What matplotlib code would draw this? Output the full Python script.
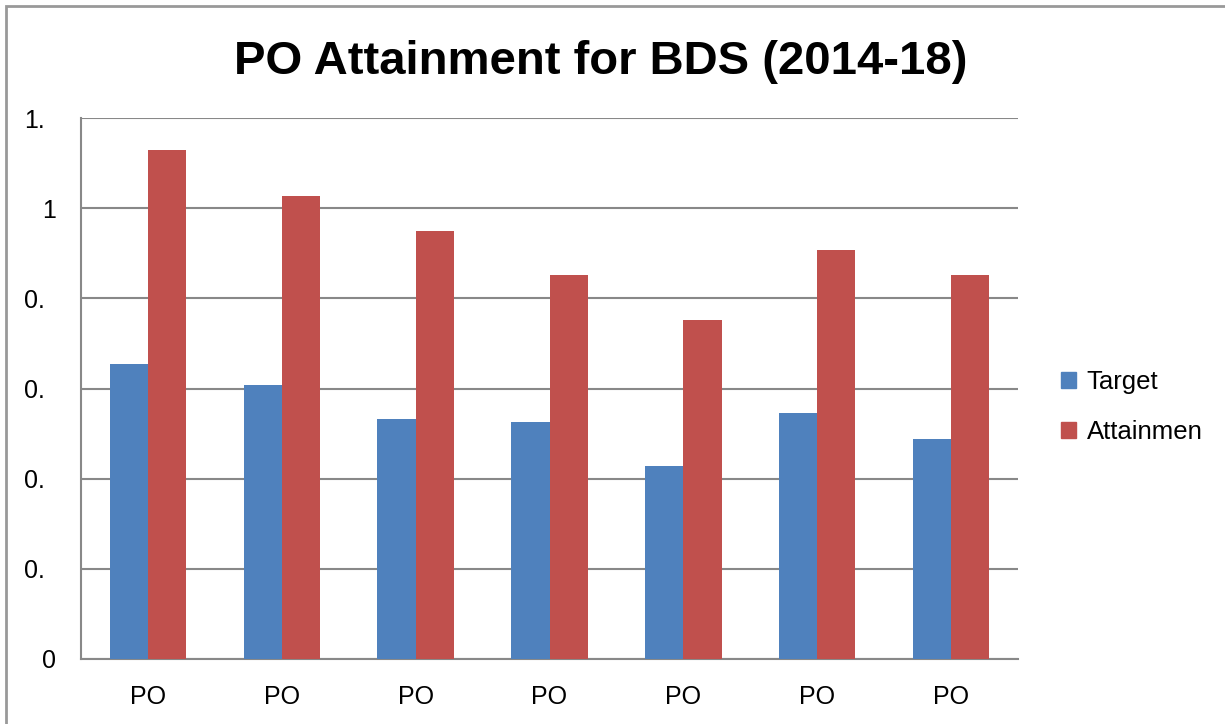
import matplotlib
matplotlib.use("Agg")
import matplotlib.pyplot as plt
import matplotlib.transforms as mtransforms
from matplotlib.patches import Rectangle, Patch
import numpy as np

plt.rcParams['font.family'] = ['Liberation Sans', 'DejaVu Sans']

categories = ["PO", "PO", "PO", "PO", "PO", "PO", "PO"]
target = [0.655, 0.608, 0.532, 0.525, 0.428, 0.545, 0.488]
attainment = [1.129, 1.027, 0.949, 0.851, 0.752, 0.907, 0.851]
ytick_values = [0, 0.2, 0.4, 0.6, 0.8, 1.0, 1.2]
ytick_labels = ["0", "0.", "0.", "0.", "0.", "1", "1."]
series_names = ["Target", "Attainmen"]

blue = "#4F81BD"
red = "#C0504D"
grid_c = "#888888"

fig = plt.figure(figsize=(12.25, 7.24), dpi=100)
W, H = 1225, 724
ax = fig.add_axes([81 / W, 1 - 659 / H, (1018 - 81) / W, (659 - 118) / H])

x = np.arange(len(categories))
bw = 0.285
ax.bar(x - bw / 2, target, width=bw, color=blue, label=series_names[0], zorder=3)
ax.bar(x + bw / 2, attainment, width=bw, color=red, label=series_names[1], zorder=3)

ax.set_xlim(-0.5, len(categories) - 0.5)
ax.set_ylim(0, 1.2)
ax.set_yticks(ytick_values)
ax.set_yticklabels(ytick_labels)
ax.set_xticks(x)
ax.set_xticklabels(categories)
ax.tick_params(axis='both', length=0, labelsize=18, colors='black')
ax.tick_params(axis='y', pad=18)
ax.tick_params(axis='x', pad=19)
ax.yaxis.grid(True, color=grid_c, linewidth=1.5, zorder=0)
ax.set_axisbelow(True)
for s in ['top', 'right']:
    ax.spines[s].set_visible(False)
for s in ['left', 'bottom']:
    ax.spines[s].set_color(grid_c)
    ax.spines[s].set_linewidth(1.5)

shift = mtransforms.ScaledTranslation(-11 / 100, 0, fig.dpi_scale_trans)
for lab in ax.get_yticklabels():
    if lab.get_text().endswith('.'):
        lab.set_transform(lab.get_transform() + shift)

fig.text(601 / W, 1 - 62 / H, "PO Attainment for BDS (2014-18)", ha='center', va='center',
         fontsize=34, fontweight='bold')

handles = [Patch(color=blue), Patch(color=red)]
fig.legend(handles, series_names, loc='center left', bbox_to_anchor=(1061 / W, 1 - 407 / H),
           frameon=False, fontsize=18.5, handlelength=0.6, handleheight=0.6,
           handletextpad=0.4, labelspacing=1.0, borderpad=0, borderaxespad=0)

fig.patches.append(Rectangle((6 / W, -0.05), 1.2, 1 - 6 / H + 0.05, transform=fig.transFigure,
                             fill=False, edgecolor='#999999', linewidth=2))

fig.savefig("out.png", dpi=100)
